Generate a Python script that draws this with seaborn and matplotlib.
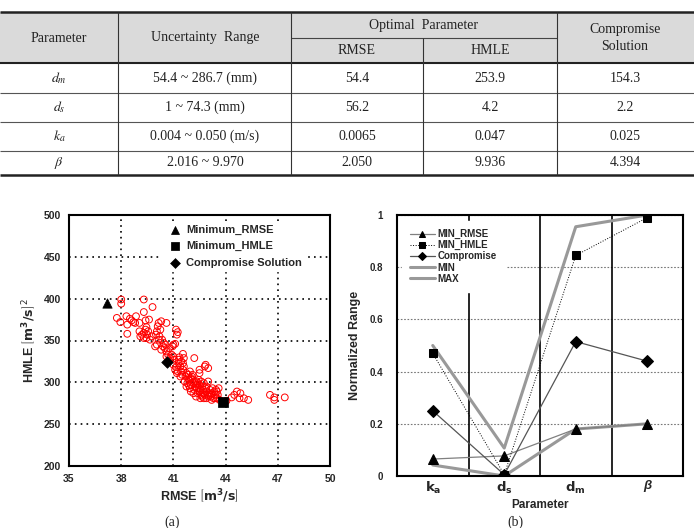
import numpy as np
import pandas as pd
import matplotlib
matplotlib.use("Agg")
import matplotlib.pyplot as plt
import seaborn as sns
from matplotlib.patches import Rectangle

# ---- table values ----
tbl_params = [r"$d_m$", r"$d_s$", r"$k_a$", r"$\beta$"]
tbl_ranges = ["54.4 ~ 286.7 (mm)", "1 ~ 74.3 (mm)", "0.004 ~ 0.050 (m/s)", "2.016 ~ 9.970"]
tbl_rmse = ["54.4", "56.2", "0.0065", "2.050"]
tbl_hmle = ["253.9", "4.2", "0.047", "9.936"]
tbl_comp = ["154.3", "2.2", "0.025", "4.394"]

# ---- (a) pareto solutions ----
rmse_pts = [38.0, 38.0, 39.3, 37.75, 37.95, 38.3, 38.35, 38.6, 38.85, 38.8, 38.35, 39.05, 39.3, 39.8,
            39.05, 39.1, 39.3, 39.4, 39.45, 39.6, 39.55, 39.3, 39.45, 39.75, 39.65, 39.4, 39.5, 39.2,
            38.7, 38.5,
            39.95, 40.05, 40.15, 40.3, 40.1, 40.05, 40.2, 40.35, 40.4, 40.5, 40.6, 40.6, 40.7, 40.6,
            40.0, 40.25, 40.45, 40.55, 40.15, 40.3, 40.75, 40.8,
            41.15, 41.25, 41.2, 41.1, 41.0, 40.95, 40.9, 41.0, 41.55, 41.6, 41.55, 41.4, 41.3, 41.0,
            41.1, 41.2, 41.4, 41.45, 41.55, 41.6, 41.3, 41.15, 41.35, 41.45, 41.25, 41.05, 41.5,
            41.75, 41.85, 42.05, 42.15, 42.35, 41.65, 41.75, 41.95, 42.15, 42.35, 42.5, 42.5, 42.7,
            42.9, 43.0, 42.8, 43.0, 43.2, 43.3, 43.5, 43.6, 43.5, 43.65, 42.5, 42.5, 42.85, 43.0,
            42.2, 42.8, 41.9, 42.0, 42.1, 42.25, 42.4, 42.6, 42.65, 42.75, 42.9, 43.1, 43.15, 43.4,
            43.25, 42.3, 42.55, 42.45, 42.6, 41.8, 41.7, 42.0, 42.2, 42.35, 42.7, 42.95, 43.05, 43.35,
            43.45, 43.55, 42.1, 41.95, 42.4, 42.85, 43.2, 43.4, 42.65, 42.2, 41.9, 42.45, 42.75, 43.1,
            42.9, 42.55, 42.0, 41.85,
            44.35, 44.65, 44.85, 44.8, 45.05, 45.3, 46.55, 46.8, 46.8, 47.4, 44.05, 44.5]
hmle_pts = [399, 394, 399, 377, 372, 379, 369, 374, 379, 371, 358, 371, 384, 390,
            361, 355, 359, 374, 366, 375, 361, 353, 353, 355, 351, 363, 357, 357,
            372, 376,
            343, 345, 371, 373, 367, 361, 355, 351, 343, 341, 337, 331, 333, 371,
            357, 363, 347, 345, 351, 339, 341, 329,
            363, 360, 357, 346, 345, 343, 333, 331, 334, 329, 323, 319, 327, 321,
            315, 311, 307, 313, 315, 319, 323, 318, 330, 325, 313, 327, 309,
            311, 305, 307, 299, 301, 301, 295, 293, 287, 293, 297, 289, 291,
            295, 301, 285, 283, 287, 281, 289, 293, 281, 279, 315, 311, 321, 317,
            329, 319, 303, 297, 303, 295, 287, 285, 295, 299, 289, 291, 283, 285,
            293, 283, 281, 303, 301, 299, 307, 289, 291, 297, 287, 285, 287, 289,
            291, 285, 309, 313, 299, 293, 279, 281, 283, 301, 296, 293, 281, 285,
            281, 291, 305, 309,
            282, 289, 287, 281, 281, 279, 285, 282, 279, 282, 278, 285]
min_rmse_pt = (37.2, 395)
min_hmle_pt = (43.85, 276)
comp_pt = (40.65, 324)

# ---- (b) normalized parameter values ----
par_names = ["ka", "ds", "dm", "beta"]
norm_min_rmse = [0.065, 0.077, 0.18, 0.20]
norm_min_hmle = [0.47, 0.005, 0.845, 0.99]
norm_comp = [0.25, 0.005, 0.515, 0.44]
norm_min = [0.042, 0.0, 0.18, 0.20]
norm_max = [0.50, 0.107, 0.955, 1.0]

sns.set_style("white")
plt.rcParams['font.family'] = ['Liberation Sans', 'DejaVu Sans']
plt.rcParams['mathtext.fontset'] = 'dejavusans'

fig = plt.figure(figsize=(6.94, 5.28), dpi=100)

# ---- table drawn in pixel coordinates ----
tab = fig.add_axes([0, 0, 1, 1], zorder=-1)
tab.set_xlim(0, 694)
tab.set_ylim(528, 0)
tab.axis('off')
tab.add_patch(Rectangle((0, 12), 694, 51, fc='#dadada', ec='none'))
tab.hlines(12, 0, 694, color='#222222', lw=1.8)
tab.hlines(38, 291, 557, color='#444444', lw=0.8)
tab.hlines(63, 0, 694, color='#222222', lw=1.5)
tab.hlines([93, 122, 151], 0, 694, color='#555555', lw=0.8)
tab.hlines(175, 0, 694, color='#222222', lw=1.8)
tab.vlines([118, 291, 557], 12, 175, color='#333333', lw=0.8)
tab.vlines(423, 38, 175, color='#333333', lw=0.8)

serif = dict(family='Liberation Serif', fontsize=10, ha='center', va='center', color='#222222')
tab.text(59, 38, "Parameter", **serif)
tab.text(205, 38, "Uncertainty  Range", **serif)
tab.text(424, 25, "Optimal  Parameter", **serif)
tab.text(357, 51, "RMSE", **serif)
tab.text(490, 51, "HMLE", **serif)
tab.text(625, 38, "Compromise\nSolution", linespacing=1.3, **serif)
row_c = [78, 107.5, 136.5, 163]
for i, yc in enumerate(row_c):
    tab.text(59, yc, tbl_params[i], math_fontfamily='stix', **serif)
    tab.text(205, yc, tbl_ranges[i], **serif)
    tab.text(357, yc, tbl_rmse[i], **serif)
    tab.text(490, yc, tbl_hmle[i], **serif)
    tab.text(625, yc, tbl_comp[i], **serif)

# ---- (a) scatter ----
ax1 = fig.add_axes([69 / 694, 1 - 466 / 528, 261 / 694, 251 / 528])
sns.scatterplot(x=rmse_pts, y=hmle_pts, ax=ax1, marker='o', s=24,
                facecolors='none', edgecolor='red', linewidth=0.7, zorder=3)
sns.scatterplot(x=[min_rmse_pt[0]], y=[min_rmse_pt[1]], ax=ax1, marker='^', s=45,
                color='black', edgecolor='black', label='Minimum_RMSE', zorder=4)
sns.scatterplot(x=[min_hmle_pt[0]], y=[min_hmle_pt[1]], ax=ax1, marker='s', s=45,
                color='black', edgecolor='black', label='Minimum_HMLE', zorder=4)
sns.scatterplot(x=[comp_pt[0]], y=[comp_pt[1]], ax=ax1, marker='D', s=35,
                color='black', edgecolor='black', label='Compromise Solution', zorder=4)
ax1.set_xlim(35, 50)
ax1.set_ylim(200, 500)
ax1.set_xticks([35, 38, 41, 44, 47, 50])
ax1.set_yticks([200, 250, 300, 350, 400, 450, 500])
ax1.grid(True, color='black', linestyle=(0, (1, 2.5)), linewidth=1.2)
ax1.tick_params(length=0, labelsize=7.5, pad=6)
for lbl in ax1.get_xticklabels() + ax1.get_yticklabels():
    lbl.set_fontweight('bold')
for sp in ax1.spines.values():
    sp.set_color('black')
    sp.set_linewidth(1.5)
ax1.set_xlabel(r"RMSE $\left[\mathbf{m^3/s}\right]$", fontsize=9, fontweight='bold', labelpad=2)
ax1.set_ylabel(r"HMLE $\left[\mathbf{m^3/s}\right]^2$", fontsize=9, fontweight='bold', labelpad=4)
leg1 = ax1.legend(loc='upper left', bbox_to_anchor=(0.33, 0.995), frameon=True, fancybox=False,
                  facecolor='white', edgecolor='white', framealpha=1,
                  prop={'size': 8, 'weight': 'bold'}, handletextpad=0.0,
                  labelspacing=0.55, borderpad=0.3, markerscale=0.85)

# ---- (b) normalized range ----
ax2 = fig.add_axes([397 / 694, 1 - 476 / 528, 286 / 694, 261 / 528])
xpos = np.arange(len(par_names))
ax2.yaxis.grid(True, color='#777777', linestyle=(0, (1.5, 1.5)), linewidth=0.8)
for xs in [0.5, 1.5, 2.5]:
    ax2.axvline(xs, color='black', lw=1.2, zorder=1)
sns.lineplot(x=xpos, y=norm_min_rmse, ax=ax2, color='#808080', lw=0.9, marker='^',
             markersize=7, markerfacecolor='black', markeredgecolor='black', label='MIN_RMSE', zorder=3)
sns.lineplot(x=xpos, y=norm_min_hmle, ax=ax2, color='black', lw=0.7, linestyle=':', marker='s',
             markersize=6, markerfacecolor='black', markeredgecolor='black', label='MIN_HMLE', zorder=3)
sns.lineplot(x=xpos, y=norm_comp, ax=ax2, color='#555555', lw=0.9, marker='D',
             markersize=6, markerfacecolor='black', markeredgecolor='black', label='Compromise', zorder=3)
sns.lineplot(x=xpos, y=norm_min, ax=ax2, color='#999999', lw=2.2, label='MIN', zorder=2)
sns.lineplot(x=xpos, y=norm_max, ax=ax2, color='#999999', lw=2.2, label='MAX', zorder=2)
ax2.set_xlim(-0.5, 3.5)
ax2.set_ylim(0, 1)
ax2.set_yticks([0, 0.2, 0.4, 0.6, 0.8, 1.0])
ax2.set_yticklabels(["0", "0.2", "0.4", "0.6", "0.8", "1"])
ax2.set_xticks(xpos)
ax2.set_xticklabels([r"$\mathbf{k_a}$", r"$\mathbf{d_s}$", r"$\mathbf{d_m}$", "β"])
ax2.tick_params(axis='y', length=0, labelsize=7, pad=10)
ax2.tick_params(axis='x', length=0, labelsize=9.5, pad=3)
for lbl in ax2.get_yticklabels() + ax2.get_xticklabels():
    lbl.set_fontweight('bold')
ax2.get_xticklabels()[3].set_fontstyle('italic')
for sp in ax2.spines.values():
    sp.set_color('black')
    sp.set_linewidth(1.5)
ax2.set_xlabel("Parameter", fontsize=8.5, fontweight='bold', labelpad=2)
ax2.set_ylabel("Normalized Range", fontsize=9, fontweight='bold', labelpad=6)
leg2 = ax2.legend(loc='upper left', bbox_to_anchor=(0.0, 0.995), frameon=True, fancybox=False,
                  facecolor='white', edgecolor='white', framealpha=1,
                  prop={'size': 7, 'weight': 'bold'}, handlelength=2.6, handletextpad=0.3,
                  labelspacing=0.12, borderpad=0.8, markerscale=0.65)

fig.text(172 / 694, 1 - 522 / 528, "(a)", family='Liberation Serif', fontsize=10, ha='center', va='center')
fig.text(515 / 694, 1 - 522 / 528, "(b)", family='Liberation Serif', fontsize=10, ha='center', va='center')

fig.savefig("out.png", dpi=100)
